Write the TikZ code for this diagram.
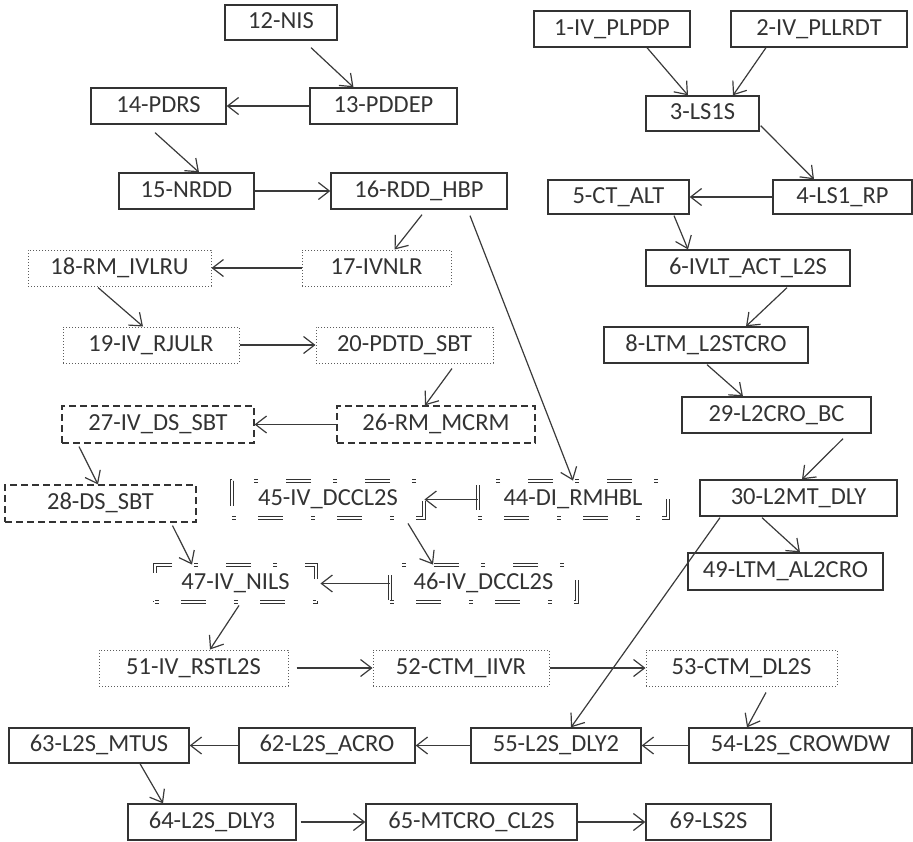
\documentclass[tikz,border=0pt]{standalone}
\usepackage{fontspec}
\setmainfont{Carlito}
\usetikzlibrary{arrows.meta}
\definecolor{ink}{HTML}{333333}
\definecolor{lin}{HTML}{3A3A3A}
\begin{document}
\begin{tikzpicture}[x=1pt,y=1pt,
  every node/.style={font=\fontsize{24.5}{29}\selectfont, text=ink, inner sep=0pt, text height=16pt, text depth=4pt},
  sbox/.style={draw=ink, line width=1.3pt},
  dotbox/.style={draw=ink!80, line width=1pt, dash pattern=on 1.2pt off 1.8pt},
  dashbox/.style={draw=ink, line width=1.2pt, dash pattern=on 7pt off 4pt},
  wbox/.style={draw=ink, double=white, double distance=2pt, line width=0.9pt, dash pattern=on 4pt off 22pt on 25pt off 28pt},
  arr/.style={draw=lin, line width=1.2pt, -{Straight Barb[length=11pt,width=17pt,line width=1.2pt]}}
]
\useasboundingbox (0,0) rectangle (913,-841);
% top-left chain
\node[sbox, minimum width=112pt, minimum height=35pt] (n12) at (281,-22.5) {12-NIS};
\node[sbox, minimum width=147pt, minimum height=36pt] (n13) at (383.5,-106) {13-PDDEP};
\node[sbox, minimum width=135pt, minimum height=36pt] (n14) at (158.5,-106) {14-PDRS};
\node[sbox, minimum width=135pt, minimum height=36pt] (n15) at (186.5,-191) {15-NRDD};
\node[sbox, minimum width=176pt, minimum height=36pt] (n16) at (419,-191) {16-RDD\_HBP};
% top-right chain
\node[sbox, minimum width=156pt, minimum height=36pt] (n1) at (612,-29) {1-IV\_PLPDP};
\node[sbox, minimum width=176pt, minimum height=36pt] (n2) at (819,-29) {2-IV\_PLLRDT};
\node[sbox, minimum width=113pt, minimum height=35pt] (n3) at (702.5,-113.5) {3-LS1S};
\node[sbox, minimum width=139pt, minimum height=34pt] (n4) at (842.5,-197) {4-LS1\_RP};
\node[sbox, minimum width=141pt, minimum height=34pt] (n5) at (618.5,-197) {5-CT\_ALT};
\node[sbox, minimum width=204pt, minimum height=36pt] (n6) at (748,-268) {6-IVLT\_ACT\_L2S};
\node[sbox, minimum width=204pt, minimum height=36pt] (n8) at (706,-345) {8-LTM\_L2STCRO};
\node[sbox, minimum width=189pt, minimum height=36pt] (n29) at (776.5,-415) {29-L2CRO\_BC};
\node[sbox, minimum width=197pt, minimum height=36pt] (n30) at (798.5,-498) {30-L2MT\_DLY};
\node[sbox, minimum width=195pt, minimum height=37pt] (n49) at (785.5,-571.5) {49-LTM\_AL2CRO};
% dotted
\node[dotbox, minimum width=149pt, minimum height=36pt] (n17) at (376.5,-268) {17-IVNLR};
\node[dotbox, minimum width=183pt, minimum height=36pt] (n18) at (119.5,-268) {18-RM\_IVLRU};
\node[dotbox, minimum width=176pt, minimum height=36pt] (n19) at (151,-345) {19-IV\_RJULR};
\node[dotbox, minimum width=177pt, minimum height=36pt] (n20) at (404.5,-345) {20-PDTD\_SBT};
% dashed
\node[dashbox, minimum width=198pt, minimum height=37pt] (n26) at (436,-424.5) {26-RM\_MCRM};
\node[dashbox, minimum width=192pt, minimum height=37pt] (n27) at (158,-424.5) {27-IV\_DS\_SBT};
\node[dashbox, minimum width=191pt, minimum height=37pt] (n28) at (100.5,-503.5) {28-DS\_SBT};
% double dash-dot
\node[wbox, minimum width=192pt, minimum height=37pt] (n45) at (328,-499.5) {45-IV\_DCCL2S};
\node[wbox, minimum width=190pt, minimum height=37pt] (n44) at (573,-499.5) {44-DI\_RMHBL};
\node[wbox, minimum width=187pt, minimum height=37pt] (n46) at (483.5,-583.5) {46-IV\_DCCL2S};
\node[wbox, minimum width=161pt, minimum height=37pt] (n47) at (235.5,-583.5) {47-IV\_NILS};
% dotted lower
\node[dotbox, minimum width=189pt, minimum height=36pt] (n51) at (193.5,-668) {51-IV\_RSTL2S};
\node[dotbox, minimum width=176pt, minimum height=36pt] (n52) at (461,-668) {52-CTM\_IIVR};
\node[dotbox, minimum width=191pt, minimum height=36pt] (n53) at (741.5,-668) {53-CTM\_DL2S};
% bottom
\node[sbox, minimum width=223pt, minimum height=35pt] (n54) at (800.5,-745.5) {54-L2S\_CROWDW};
\node[sbox, minimum width=170pt, minimum height=35pt] (n55) at (556,-745.5) {55-L2S\_DLY2};
\node[sbox, minimum width=176pt, minimum height=35pt] (n62) at (327,-745.5) {62-L2S\_ACRO};
\node[sbox, minimum width=180pt, minimum height=35pt] (n63) at (99,-745.5) {63-L2S\_MTUS};
\node[sbox, minimum width=168pt, minimum height=36pt] (n64) at (212,-822) {64-L2S\_DLY3};
\node[sbox, minimum width=211pt, minimum height=36pt] (n65) at (471.5,-822) {65-MTCRO\_CL2S};
\node[sbox, minimum width=125pt, minimum height=36pt] (n69) at (708.5,-822) {69-LS2S};
% connectors
\draw[arr] ([shift={(30,-7)}]n12.south) -- ([xshift=-30]n13.north);
\draw[arr] (n13.west) -- (n14.east);
\draw[arr] ([shift={(-3.5,-8)}]n14.south) -- ([xshift=12.5]n15.north);
\draw[arr] (n15.east) -- (n16.west);
\draw[arr] ([shift={(3,-5)}]n16.south) -- ([xshift=18]n17.north);
\draw[arr] ([shift={(51,-6)}]n16.south) -- (n44.north);
\draw[arr] (n17.west) -- (n18.east);
\draw[arr] ([shift={(-21.5,-1)}]n18.south) -- ([xshift=-8]n19.north);
\draw[arr] (n19.east) -- (n20.west);
\draw[arr] ([shift={(47.5,-5)}]n20.south) -- ([xshift=-11]n26.north);
\draw[arr] (n26.west) -- (n27.east);
\draw[arr] ([shift={(-79,-3)}]n27.south) -- ([xshift=-2.5]n28.north);
\draw[arr] ([shift={(72,-3)}]n28.south) -- ([xshift=-43.5]n47.north);
\draw[arr] (n44.west) -- (n45.east);
\draw[arr] ([shift={(80,-5)}]n45.south) -- ([xshift=-50.5]n46.north);
\draw[arr] (n46.west) -- ([xshift=4]n47.east);
\draw[arr] ([shift={(3.5,-3)}]n47.south) -- ([xshift=16.5]n51.north);
\draw[arr] ([xshift=8]n51.east) -- (n52.west);
\draw[arr] (n52.east) -- (n53.west);
\draw[arr] ([shift={(24.5,-6)}]n53.south) -- ([xshift=-53.5]n54.north);
\draw[arr] (n54.west) -- (n55.east);
\draw[arr] (n55.west) -- (n62.east);
\draw[arr] (n62.west) -- (n63.east);
\draw[arr] ([xshift=41]n63.south) -- ([xshift=-49]n64.north);
\draw[arr] ([xshift=4]n64.east) -- (n65.west);
\draw[arr] (n65.east) -- (n69.west);
\draw[arr] ([xshift=35]n1.south) -- ([xshift=-14.5]n3.north);
\draw[arr] ([xshift=-53]n2.south) -- ([xshift=30.5]n3.north);
\draw[arr] ([shift={(1,6)}]n3.south east) -- ([xshift=-28.5]n4.north);
\draw[arr] (n4.west) -- (n5.east);
\draw[arr] ([shift={(55.5,-1)}]n5.south) -- ([xshift=-60]n6.north);
\draw[arr] ([shift={(39,-1)}]n6.south) -- ([xshift=40]n8.north);
\draw[arr] ([shift={(1,-1)}]n8.south) -- ([xshift=-33.5]n29.north);
\draw[arr] ([shift={(66.5,-5)}]n29.south) -- ([xshift=3.5]n30.north);
\draw[arr] ([shift={(-36.5,-1)}]n30.south) -- ([xshift=14.5]n49.north);
\draw[arr] ([shift={(-78.5,-1)}]n30.south) -- ([xshift=15]n55.north);
\end{tikzpicture}
\end{document}
